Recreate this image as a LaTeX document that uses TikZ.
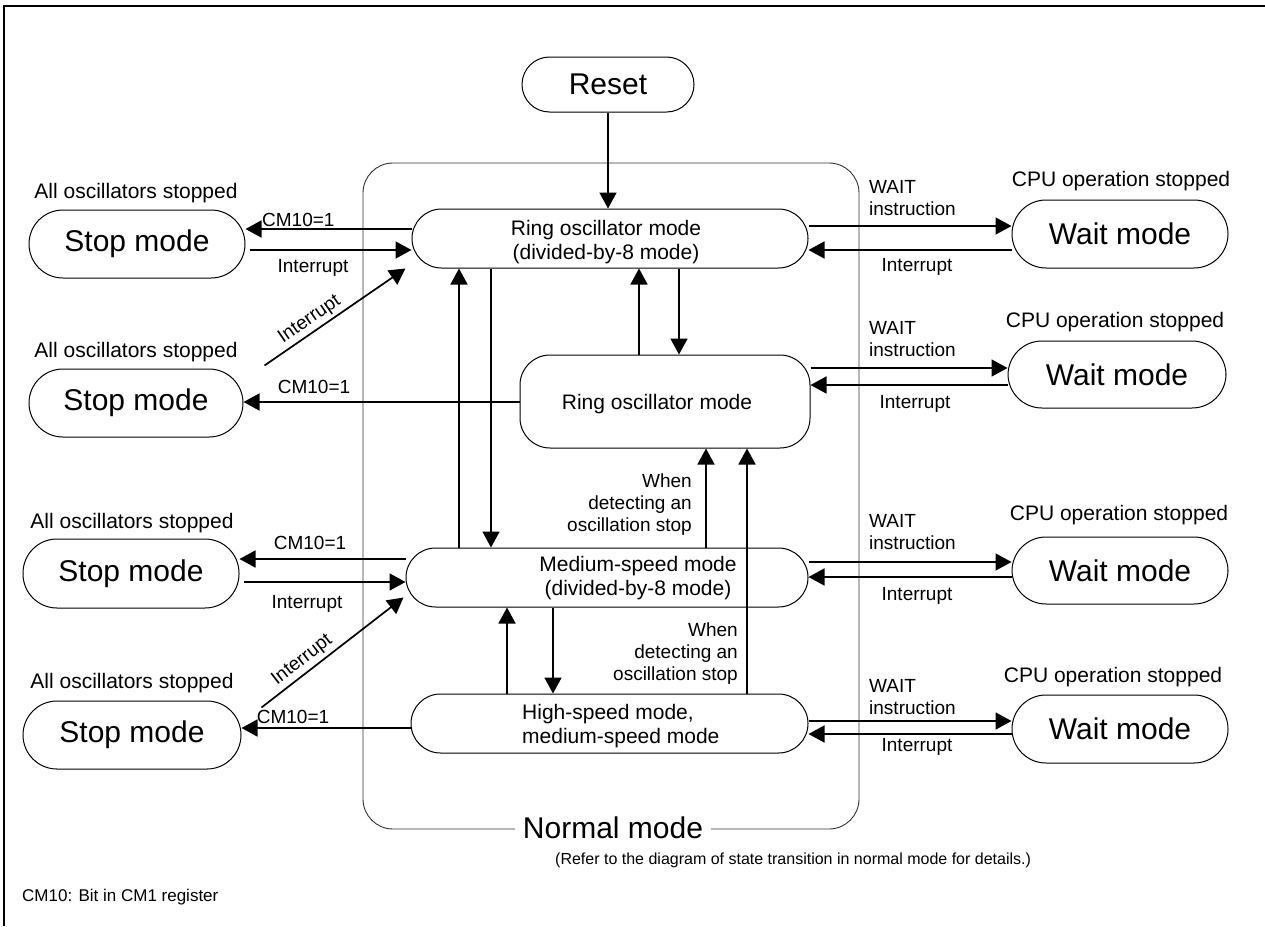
\documentclass[tikz,border=0pt]{standalone}
\usepackage{fontspec}
\setmainfont{Liberation Sans}
\usetikzlibrary{arrows.meta}
\begin{document}
\begin{tikzpicture}[x=1pt,y=-1pt,
  box/.style={draw, line width=1pt, inner sep=0pt, fill=white},
  big/.style={font=\fontsize{30}{36}\selectfont},
  mid/.style={font=\fontsize{21}{24.5}\selectfont, align=center, inner sep=0pt},
  lab/.style={font=\fontsize{19}{22}\selectfont, inner sep=0pt},
  small/.style={font=\fontsize{16}{19}\selectfont, inner sep=0pt},
  arr/.style={line width=1.7pt, -{Triangle[length=16pt,width=17pt]}},
  stadium/.style={box, minimum width=216, minimum height=68, rounded corners=34, big},
]
\useasboundingbox (0,0) rectangle (1265,926);
% frame
\draw[line width=2pt] (3.5,926) -- (3.5,5.5) -- (1265,5.5);

% normal mode area
\node[draw=black!80, line width=0.9pt, minimum width=496, minimum height=666, rounded corners=30, inner sep=0pt] (normal) at (611,496) {};
\node[big, fill=white, inner xsep=8pt, inner ysep=0pt] (normallbl) at (613,828) {Normal mode};
\node[small, anchor=west] (refer) at (555,860) {(Refer to the diagram of state transition in normal mode for details.)};
\node[font=\fontsize{17}{20}\selectfont, inner sep=0pt, anchor=west] (note) at (22,897) {CM10: Bit in CM1 register};

% reset
\node[box, big, minimum width=172, minimum height=55, rounded corners=27.5] (reset) at (608,84.5) {Reset};

% normal-mode states
\node[box, minimum width=396, minimum height=59, rounded corners=29.5] (rd8) at (610,238.5) {};
\node[mid] (rd8t) at (606,242) {Ring oscillator mode\\(divided-by-8 mode)};
\node[box, minimum width=290, minimum height=93, rounded corners=30] (ro) at (665,401.5) {};
\node[mid] (rot) at (657,404) {Ring oscillator mode};
\node[box, minimum width=402, minimum height=59, rounded corners=29.5] (md8) at (607,577.5) {};
\node[mid] (md8t) at (638,578) {Medium-speed mode\\(divided-by-8 mode)};
\node[box, minimum width=397, minimum height=59, rounded corners=29.5] (hs) at (609.5,723.5) {};
\node[mid, align=left, anchor=west] (hst) at (522,726) {High-speed mode,\\medium-speed mode};

% stop modes
\node[stadium] (stop1) at (137,244) {Stop mode};
\node[stadium, minimum width=214] (stop2) at (136,403) {Stop mode};
\node[stadium, minimum height=69] (stop3) at (131,573.5) {Stop mode};
\node[stadium, minimum width=218] (stop4) at (132,735) {Stop mode};
\node[mid] (s1l) at (136,193) {All oscillators stopped};
\node[mid] (s2l) at (136,352) {All oscillators stopped};
\node[mid] (s3l) at (132,523) {All oscillators stopped};
\node[mid] (s4l) at (132,683) {All oscillators stopped};

% wait modes
\node[stadium] (wait1) at (1120,234) {Wait mode};
\node[stadium, minimum width=218, minimum height=67] (wait2) at (1117,374.5) {Wait mode};
\node[stadium, minimum height=67] (wait3) at (1120,570.5) {Wait mode};
\node[stadium] (wait4) at (1120,729) {Wait mode};
\node[mid] (w1l) at (1121,181) {CPU operation stopped};
\node[mid] (w2l) at (1115,322) {CPU operation stopped};
\node[mid] (w3l) at (1119,515) {CPU operation stopped};
\node[mid] (w4l) at (1113,677) {CPU operation stopped};

% reset arrow
\draw[arr] (reset.south) -- (reset.south |- rd8.north);

% left side
\draw[arr] ([yshift=9.5]rd8.west) -- ([yshift=9.5]rd8.west -| stop1.east);
\node[lab, anchor=west] (c1) at (262,220) {CM10=1};
\draw[arr] ([xshift=4pt,yshift=-6]stop1.east) -- ([yshift=-6]stop1.east -| rd8.west);
\node[lab] (i1) at (313,268) {Interrupt};
\draw[arr] ([xshift=21pt,yshift=3pt]stop2.north east) -- ([xshift=-6pt]rd8.south west)
  node[lab, sloped, above=3pt, pos=0.37] (i1d) {Interrupt};

\draw[arr] ([yshift=-0.5]ro.west) -- ([yshift=-0.5]ro.west -| stop2.east);
\node[lab] (c2) at (314,387) {CM10=1};

\draw[arr] ([yshift=18.5]md8.west) -- ([yshift=18.5]md8.west -| stop3.east);
\node[lab] (c3) at (310,543) {CM10=1};
\draw[arr] ([xshift=4pt,yshift=-8.5]stop3.east) -- ([yshift=-8.5]stop3.east -| md8.west);
\node[lab] (i3) at (307,604) {Interrupt};
\draw[arr] ([xshift=20pt,yshift=-7pt]stop4.north east) -- ([xshift=-2pt,yshift=10pt]md8.south west)
  node[lab, sloped, above=3pt, pos=0.34] (i3d) {Interrupt};

\draw[arr] ([yshift=-4.5]hs.west) -- ([yshift=-4.5]hs.west -| stop4.east);
\node[lab] (c4) at (293,717) {CM10=1};

% right side
\draw[arr] ([yshift=12.5]rd8.east) -- ([yshift=12.5]rd8.east -| wait1.west);
\node[lab, anchor=west, align=left] (wi1) at (869,198.5) {WAIT\\instruction};
\draw[arr] ([yshift=-16]wait1.west) -- ([yshift=-16]wait1.west -| rd8.east);
\node[lab] (wr1) at (917,267) {Interrupt};

\draw[arr] ([yshift=33.5]ro.east) -- ([yshift=33.5]ro.east -| wait2.west);
\node[lab, anchor=west, align=left] (wi2) at (869,339) {WAIT\\instruction};
\draw[arr] ([yshift=-10.5]wait2.west) -- ([yshift=-10.5]wait2.west -| ro.east);
\node[lab] (wr2) at (915,404) {Interrupt};

\draw[arr] ([yshift=15.5]md8.east) -- ([yshift=15.5]md8.east -| wait3.west);
\node[lab, anchor=west, align=left] (wi3) at (869,532) {WAIT\\instruction};
\draw[arr] ([yshift=-6.5]wait3.west) -- ([yshift=-6.5]wait3.west -| md8.east);
\node[lab] (wr3) at (917,596) {Interrupt};

\draw[arr] ([yshift=2.5]hs.east) -- ([yshift=2.5]hs.east -| wait4.west);
\node[lab, anchor=west, align=left] (wi4) at (869,697.5) {WAIT\\instruction};
\draw[arr] ([yshift=-5]wait4.west) -- ([yshift=-5]wait4.west -| hs.east);
\node[lab] (wr4) at (917,747) {Interrupt};

% vertical transitions
\draw[arr] ([xshift=-148]md8.north) -- ([xshift=-148]md8.north |- rd8.south);
\draw[arr] ([xshift=-119]rd8.south) -- ([xshift=-119]rd8.south |- md8.north);
\draw[arr] ([xshift=-26]ro.north) -- ([xshift=-26]ro.north |- rd8.south);
\draw[arr] ([xshift=69]rd8.south) -- ([xshift=69]rd8.south |- ro.north);
\draw[arr] ([xshift=99]md8.north) -- ([xshift=99]md8.north |- ro.south);
\node[lab, anchor=east, align=right] (det1) at (692,505) {When\\detecting an\\oscillation stop};
\draw[arr] ([xshift=137.5]hs.north) -- ([xshift=137.5]hs.north |- ro.south);
\node[lab, anchor=east, align=right] (det2) at (738,654) {When\\detecting an\\oscillation stop};
\draw[arr] ([xshift=-102.5]hs.north) -- ([xshift=-102.5]hs.north |- md8.south);
\draw[arr] ([xshift=-54]md8.south) -- ([xshift=-54]md8.south |- hs.north);
\end{tikzpicture}
\end{document}
